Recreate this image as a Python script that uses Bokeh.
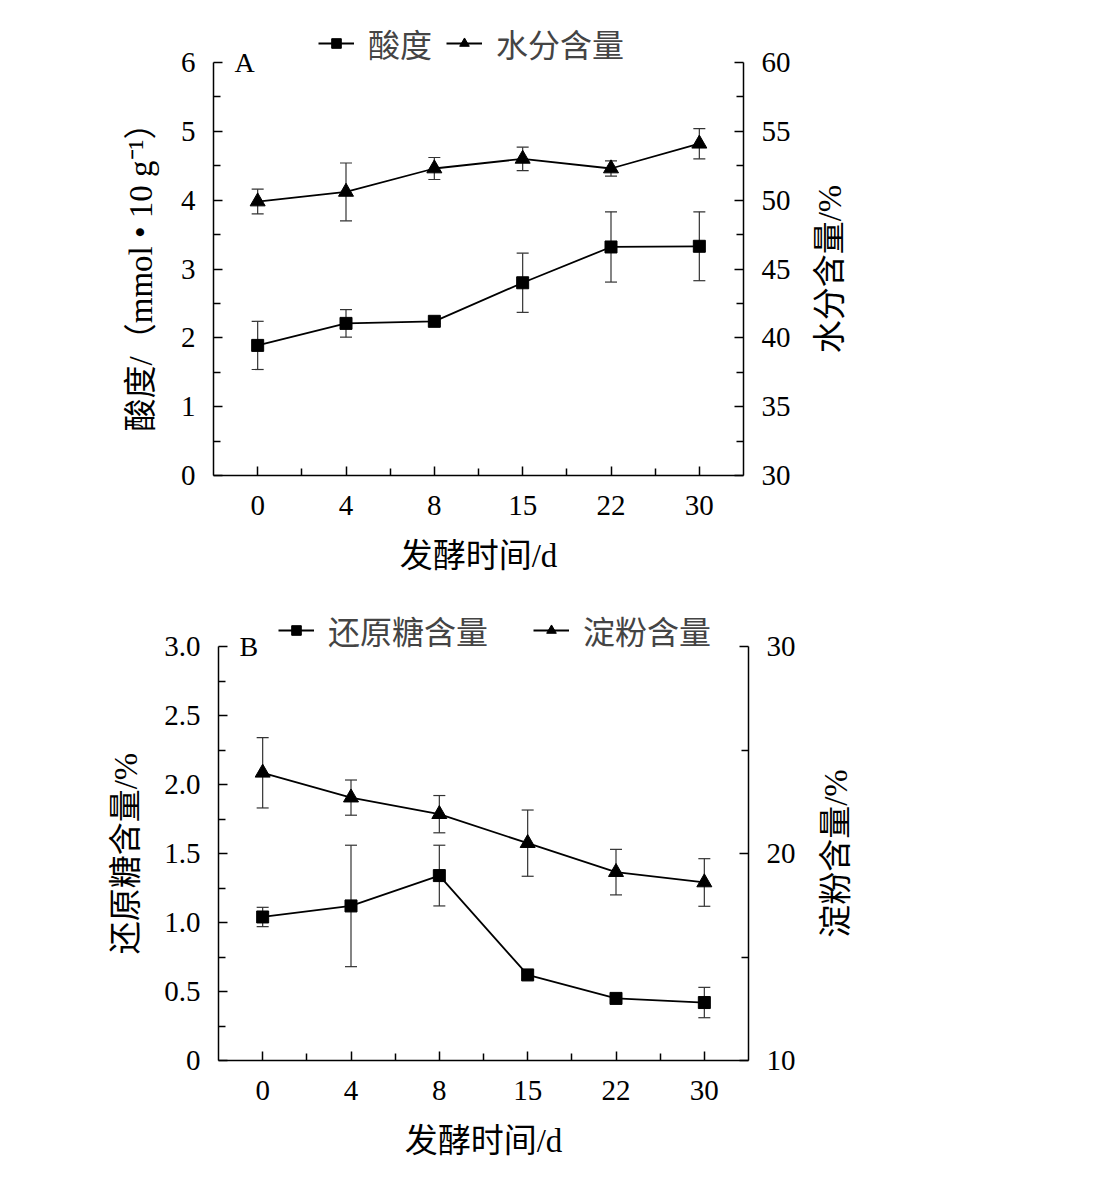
import math
from bokeh.plotting import figure
from bokeh.layouts import column
from bokeh.models import (Range1d, LinearAxis, FixedTicker, Whisker, TeeHead, ColumnDataSource,
                          Legend, LegendItem, Label, LabelSet, PrintfTickFormatter)
from bokeh.embed import file_html
from bokeh.resources import INLINE

# ---------------- data ----------------
days = ["0", "4", "8", "15", "22", "30"]

acidity = [1.89, 2.21, 2.24, 2.80, 3.32, 3.33]
acidity_err = [0.35, 0.20, 0.03, 0.43, 0.51, 0.50]
water = [49.9, 50.6, 52.3, 53.0, 52.3, 54.1]
water_err = [0.9, 2.1, 0.8, 0.85, 0.55, 1.1]

sugar = [1.04, 1.12, 1.34, 0.62, 0.45, 0.42]
sugar_err = [0.07, 0.44, 0.22, 0.03, 0.01, 0.11]
starch = [23.9, 22.7, 21.9, 20.5, 19.1, 18.6]
starch_err = [1.7, 0.85, 0.9, 1.6, 1.1, 1.15]

FONT = "'Liberation Serif', 'Noto Sans CJK SC'"
TICK_SIZE = "29px"
LABEL_SIZE = "33px"
LEGEND_SIZE = "32px"

FIG_W = 1086
FRAME_L = 100      # frame spans horizontally FRAME_L..FRAME_R (px)
FRAME_R = 862


def make_panel(tag, left_vals, left_err, right_vals, right_err, left_lim, right_lim,
               left_ticks, left_minor, right_ticks, right_minor, left_label, right_label,
               names, left_fmt, box, fig_top, height, legend_xy, legend_spacing,
               left_lab_dx, right_lab_dx):
    ax_l, ax_r, ax_t, ax_b = box           # pixel box of the axes on the page
    n = len(days)
    idx = list(range(n))
    u = (ax_r - ax_l) / n
    xr = (-0.5 - (ax_l - FRAME_L) / u, n - 0.5 + (FRAME_R - ax_r) / u)
    above = (ax_b - fig_top) / (ax_b - ax_t)
    below = (fig_top + height - ax_b) / (ax_b - ax_t)
    lspan = left_lim[1] - left_lim[0]
    rspan = right_lim[1] - right_lim[0]
    lr = (left_lim[0] - lspan * below, left_lim[0] + lspan * above)
    rr = (right_lim[0] - rspan * below, right_lim[0] + rspan * above)
    p = figure(width=FIG_W, height=height, output_backend="svg", toolbar_location=None,
               x_range=Range1d(*xr), y_range=Range1d(*lr),
               min_border_left=FRAME_L, min_border_right=FIG_W - FRAME_R,
               min_border_top=0, min_border_bottom=0)
    p.extra_y_ranges = {"r": Range1d(*rr)}
    p.outline_line_color = None
    p.xgrid.visible = False
    p.ygrid.visible = False
    p.xaxis.visible = False
    p.yaxis.visible = False

    def style(ax):
        ax.axis_line_color = "black"
        ax.axis_line_width = 1.5
        ax.major_tick_line_color = "black"
        ax.minor_tick_line_color = "black"
        ax.major_tick_line_width = 1.5
        ax.minor_tick_line_width = 1.5
        ax.major_tick_out = 0
        ax.minor_tick_out = 0
        ax.major_tick_in = 9
        ax.minor_tick_in = 7
        ax.major_label_text_font = FONT
        ax.major_label_text_font_size = TICK_SIZE
        ax.major_label_text_color = "black"

    # x axis: ticks at the categories (long) and between them (short); labels drawn below
    xa = LinearAxis(ticker=FixedTicker(ticks=[], minor_ticks=idx),
                    bounds=(-0.5, n - 0.5), fixed_location=left_lim[0])
    style(xa)
    xa.minor_tick_in = 9
    xa.major_label_standoff = 0
    p.add_layout(xa, "below")
    xb = LinearAxis(ticker=FixedTicker(ticks=[], minor_ticks=[i + 0.5 for i in idx[:-1]]),
                    bounds=(-0.5, n - 0.5), fixed_location=left_lim[0])
    style(xb)
    xb.axis_line_color = None
    xb.major_label_standoff = 0
    p.add_layout(xb, "below")

    la = LinearAxis(ticker=FixedTicker(ticks=left_ticks, minor_ticks=left_minor),
                    bounds=left_lim, fixed_location=-0.5)
    style(la)
    if left_fmt:
        la.formatter = PrintfTickFormatter(format=left_fmt)
        la.major_label_overrides = {0: "0"}
    la.major_label_standoff = 18
    p.add_layout(la, "left")

    ra = LinearAxis(y_range_name="r", ticker=FixedTicker(ticks=right_ticks, minor_ticks=right_minor),
                    bounds=right_lim, fixed_location=n - 0.5)
    style(ra)
    ra.major_label_standoff = 18
    p.add_layout(ra, "right")

    # category tick labels under the x axis
    tick_src = ColumnDataSource(dict(x=idx, text=days))
    p.add_layout(LabelSet(x="x", y=left_lim[0], text="text", source=tick_src, y_offset=-30,
                          text_font=FONT, text_font_size=TICK_SIZE, text_align="center",
                          text_baseline="middle", text_color="black"))

    src_l = ColumnDataSource(dict(x=idx, y=left_vals,
                                  lo=[v - e for v, e in zip(left_vals, left_err)],
                                  hi=[v + e for v, e in zip(left_vals, left_err)]))
    src_r = ColumnDataSource(dict(x=idx, y=right_vals,
                                  lo=[v - e for v, e in zip(right_vals, right_err)],
                                  hi=[v + e for v, e in zip(right_vals, right_err)]))

    for src, rng in ((src_l, "default"), (src_r, "r")):
        w = Whisker(base="x", upper="hi", lower="lo", source=src, y_range_name=rng,
                    line_color="#333333", line_width=1.2,
                    upper_head=TeeHead(size=12, line_color="#333333", line_width=1.2),
                    lower_head=TeeHead(size=12, line_color="#333333", line_width=1.2))
        p.add_layout(w)

    l1 = p.line("x", "y", source=src_l, line_color="black", line_width=1.8)
    m1 = p.scatter("x", "y", source=src_l, marker="square", size=12, color="black")
    l2 = p.line("x", "y", source=src_r, y_range_name="r", line_color="black", line_width=1.8)
    m2 = p.scatter("x", "y", source=src_r, y_range_name="r", marker="triangle", size=15, color="black")

    legend = Legend(items=[LegendItem(label=names[0], renderers=[l1, m1]),
                           LegendItem(label=names[1], renderers=[l2, m2])],
                    orientation="horizontal", location=legend_xy,
                    background_fill_alpha=0, border_line_color=None,
                    label_text_font=FONT, label_text_font_size=LEGEND_SIZE,
                    glyph_width=36, glyph_height=24, label_standoff=14, spacing=legend_spacing,
                    padding=0, margin=0)
    p.add_layout(legend, "center")

    mid_l = (left_lim[0] + left_lim[1]) / 2
    mid_r = (right_lim[0] + right_lim[1]) / 2
    p.add_layout(Label(x=-0.5, y=left_lim[1], x_offset=21, text=tag, text_font=FONT,
                       text_font_size="28px", text_baseline="middle", text_color="black"))
    p.add_layout(Label(x=-0.5, y=mid_l, x_offset=left_lab_dx, text=left_label, angle=math.pi / 2,
                       text_font=FONT, text_font_size=LABEL_SIZE, text_align="center",
                       text_baseline="middle", text_color="black"))
    p.add_layout(Label(x=n - 0.5, y=mid_r, y_range_name="r", x_offset=right_lab_dx, text=right_label,
                       angle=math.pi / 2, text_font=FONT, text_font_size=LABEL_SIZE,
                       text_align="center", text_baseline="middle", text_color="black"))
    p.add_layout(Label(x=(n - 1) / 2, y=left_lim[0], y_offset=-80, text="发酵时间/d",
                       text_font=FONT, text_font_size=LABEL_SIZE, text_align="center",
                       text_baseline="middle", text_color="black"))
    return p


pA = make_panel("A", acidity, acidity_err, water, water_err, (0, 6), (30, 60),
                list(range(7)), [i + 0.5 for i in range(6)],
                list(range(30, 61, 5)), [32.5 + 5 * i for i in range(6)],
                "酸度/（mmol • 10 g⁻¹）", "水分含量/%", ["酸度", "水分含量"], None,
                box=(213, 743, 62, 475), fig_top=0, height=590,
                legend_xy=(218, 524), legend_spacing=14, left_lab_dx=-73, right_lab_dx=86)

pB = make_panel("B", sugar, sugar_err, starch, starch_err, (0, 3), (10, 30),
                [0.5 * i for i in range(7)], [0.25 + 0.5 * i for i in range(6)],
                [10, 20, 30], [15, 25],
                "还原糖含量/%", "淀粉含量/%", ["还原糖含量", "淀粉含量"], "%.1f",
                box=(218, 748, 646, 1060), fig_top=590, height=590,
                legend_xy=(178, 527), legend_spacing=45, left_lab_dx=-93, right_lab_dx=87)

layout = column(pA, pB)
open("out.html", "w").write(file_html(layout, INLINE))
